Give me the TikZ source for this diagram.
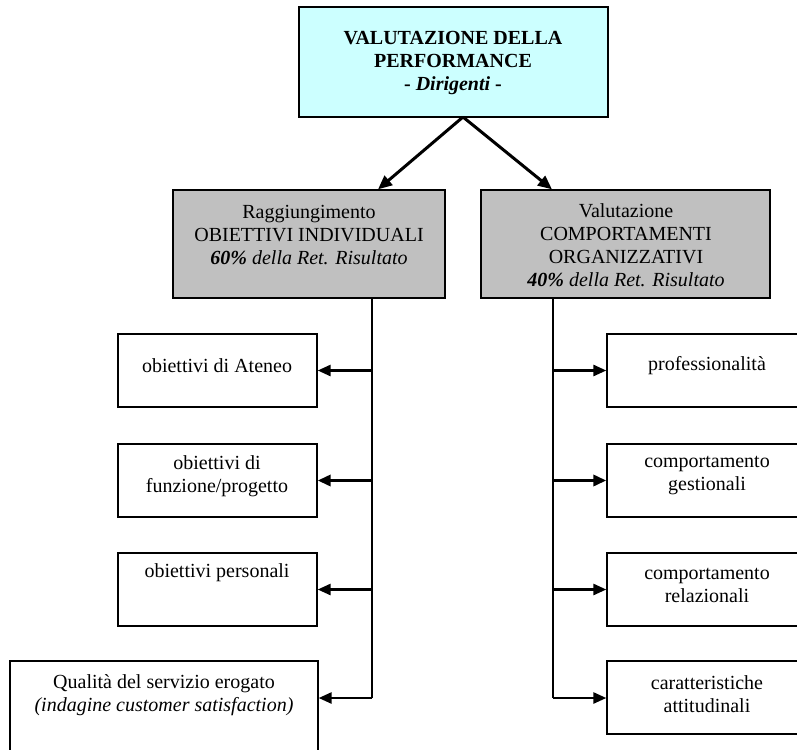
\documentclass[tikz,border=0pt]{standalone}
\usepackage{fontspec}
\setmainfont{Liberation Serif}
\usetikzlibrary{arrows.meta}
\definecolor{topcyan}{HTML}{CCFFFF}
\definecolor{boxgray}{HTML}{C0C0C0}
\begin{document}
\begin{tikzpicture}[x=1pt,y=-1pt,
  box/.style={draw=black,line width=1.3pt,inner sep=0pt},
  txt/.style={align=center,inner sep=0pt,font=\fontsize{20}{23}\selectfont},
  conn/.style={line width=2.6pt,-{Triangle[length=13pt,width=11pt]}},
  connthick/.style={line width=3.8pt,-{Triangle[length=13pt,width=11pt]}},
  vline/.style={line width=1.3pt}]
\useasboundingbox (0,0) rectangle (797,749);
% boxes
\node[box,fill=topcyan,minimum width=309pt,minimum height=110pt] (top) at (453.5,62) {};
\node[box,fill=boxgray,minimum width=272pt,minimum height=108pt] (lg) at (309,244) {};
\node[box,fill=boxgray,minimum width=289pt,minimum height=108pt] (rg) at (625.5,244) {};
\node[box,minimum width=199pt,minimum height=73pt] (a1) at (217.5,370.5) {};
\node[box,minimum width=199pt,minimum height=73pt] (a2) at (217.5,480.5) {};
\node[box,minimum width=199pt,minimum height=73pt] (a3) at (217.5,589.5) {};
\node[box,minimum width=308pt,minimum height=110pt] (a4) at (164,716) {};
\node[box,minimum width=200pt,minimum height=73pt] (b1) at (707,370.5) {};
\node[box,minimum width=200pt,minimum height=73pt] (b2) at (707,480.5) {};
\node[box,minimum width=200pt,minimum height=73pt] (b3) at (707,589.5) {};
\node[box,minimum width=200pt,minimum height=73pt] (b4) at (707,697.5) {};
% texts
\node[txt] (ttop) at (453,63) {\textbf{VALUTAZIONE DELLA}\\\textbf{PERFORMANCE}\\\textbf{- \textit{Dirigenti} -}};
\node[txt] (tlg) at (309,235) {Raggiungimento\\OBIETTIVI INDIVIDUALI\\\textit{\textbf{60\%} della Ret. Risultato}};
\node[txt] (trg) at (626,245) {Valutazione\\COMPORTAMENTI\\ORGANIZZATIVI\\\textit{\textbf{40\%} della Ret. Risultato}};
\node[txt] (ta1) at (217,366) {obiettivi di Ateneo};
\node[txt] (ta2) at (217,476) {obiettivi di\\funzione/progetto};
\node[txt] (ta3) at (217,573) {obiettivi personali};
\node[txt] (ta4) at (164,695) {Qualità del servizio erogato\\\textit{(indagine customer satisfaction)}};
\node[txt] (tb1) at (707,366) {professionalità};
\node[txt] (tb2) at (707,476) {comportamento\\gestionali};
\node[txt] (tb3) at (707,585) {comportamento\\relazionali};
\node[txt] (tb4) at (707,694) {caratteristiche\\attitudinali};
% coordinates
\coordinate (apex) at (463,117);
\coordinate (L) at (372,698);
\coordinate (R) at (553,698);
% top arrows
\draw[line width=3pt,-{Triangle[length=14pt,width=12pt]}] (apex) -- (lg.north -| 378,0);
\draw[line width=3pt,-{Triangle[length=14pt,width=12pt]}] (apex) -- (rg.north -| 552,0);
% vertical lines
\draw[vline] (lg.south -| L) -- (L);
\draw[vline] (rg.south -| R) -- (R);
% left branch arrows
\draw[conn] (a1.east -| L) -- (a1.east);
\draw[connthick] (a2.east -| L) -- (a2.east);
\draw[conn] (a3.east -| L) -- (a3.east);
\draw[conn] (L) -- (L -| a4.east);
% right branch arrows
\draw[conn] (b1.west -| R) -- (b1.west);
\draw[connthick] (b2.west -| R) -- (b2.west);
\draw[conn] (b3.west -| R) -- (b3.west);
\draw[conn] (R) -- (R -| b4.west);
\end{tikzpicture}
\end{document}
